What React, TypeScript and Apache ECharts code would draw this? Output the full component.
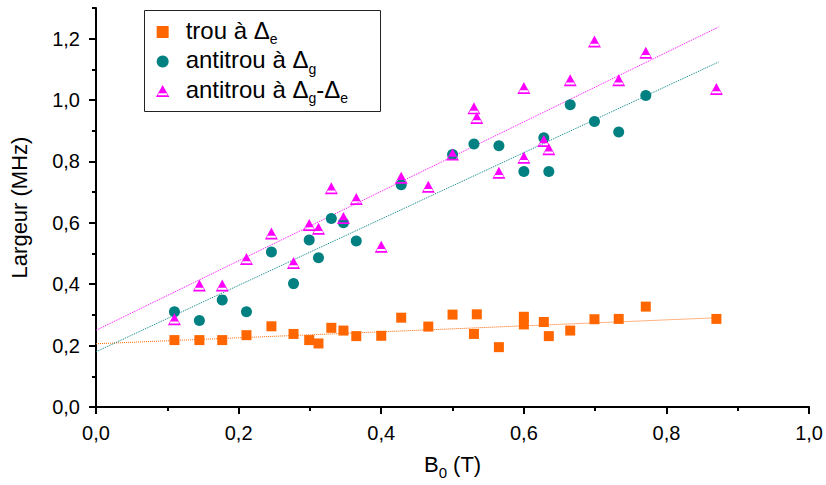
import React, { useEffect, useRef } from "react";
import * as echarts from "echarts";

// ---- data ----
const trouX = [0.11, 0.145, 0.177, 0.211, 0.246, 0.277, 0.299, 0.312, 0.33, 0.347, 0.365, 0.4, 0.428, 0.466, 0.5, 0.53, 0.534, 0.565, 0.6, 0.6, 0.628, 0.635, 0.665, 0.699, 0.733, 0.771, 0.87];
const trouY = [0.218, 0.218, 0.218, 0.234, 0.263, 0.238, 0.218, 0.207, 0.258, 0.249, 0.231, 0.232, 0.291, 0.262, 0.301, 0.238, 0.302, 0.195, 0.294, 0.269, 0.277, 0.231, 0.249, 0.286, 0.287, 0.327, 0.287];

const antiX = [0.11, 0.145, 0.177, 0.211, 0.246, 0.277, 0.299, 0.312, 0.33, 0.347, 0.365, 0.428, 0.5, 0.53, 0.565, 0.6, 0.628, 0.635, 0.665, 0.699, 0.733, 0.771];
const antiY = [0.31, 0.282, 0.349, 0.31, 0.505, 0.402, 0.544, 0.486, 0.614, 0.6, 0.541, 0.724, 0.823, 0.857, 0.851, 0.767, 0.877, 0.767, 0.985, 0.93, 0.896, 1.015];

const antiDiffX = [0.11, 0.145, 0.177, 0.211, 0.246, 0.277, 0.299, 0.312, 0.33, 0.347, 0.365, 0.4, 0.428, 0.466, 0.5, 0.53, 0.534, 0.565, 0.6, 0.6, 0.628, 0.635, 0.665, 0.699, 0.733, 0.771, 0.87];
const antiDiffY = [0.286, 0.396, 0.396, 0.482, 0.565, 0.469, 0.593, 0.581, 0.713, 0.616, 0.678, 0.522, 0.747, 0.718, 0.823, 0.973, 0.942, 0.763, 1.039, 0.812, 0.867, 0.84, 1.065, 1.191, 1.065, 1.154, 1.036];

// linear fits (endpoints)
const fitTrou = [[0, 0.206], [0.873, 0.291]];
const fitAnti = [[0, 0.18], [0.873, 1.124]];
const fitAntiDiff = [[0, 0.25], [0.873, 1.238]];

const seriesNames = ["trou à Δe", "antitrou à Δg", "antitrou à Δg-Δe"];
const legendRich = [
  "{t|trou à Δ}{s|e}",
  "{t|antitrou à Δ}{s|g}",
  "{t|antitrou à Δ}{s|g}{t|-Δ}{s|e}",
];

const yMajorTicks = [0, 0.2, 0.4, 0.6, 0.8, 1.0, 1.2];

const FONT = "'Liberation Sans', Arial, sans-serif";
const ORANGE = "#ff6600";
const TEAL = "#008080";
const MAGENTA = "#ff00ff";
const SQUARE = "path://M0,0 L10,0 L10,10 L0,10 Z";
const TRIANGLE =
  "path://M10,0 L20,18 L0,18 Z M4.2,12.4 L2.6,15.4 L17.4,15.4 L15.8,12.4 Z";

const zip = (xs: number[], ys: number[]) => xs.map((x, i) => [x, ys[i]]);
const fmt = (v: number) => v.toFixed(1).replace(".", ",");

export default function App() {
  const ref = useRef<HTMLDivElement>(null);
  useEffect(() => {
    if (!ref.current) return;
    const chart = echarts.init(ref.current, null, { renderer: "svg" });
    const axisLine = { show: true, lineStyle: { color: "#000", width: 2 } };
    chart.setOption({
      animation: false,
      backgroundColor: "#fff",
      textStyle: { fontFamily: FONT },
      grid: { left: 96, right: 16, top: 8, bottom: 74 },
      legend: {
        orient: "vertical",
        left: 156,
        top: 18,
        padding: 0,
        itemGap: 1.5,
        itemWidth: 36,
        itemHeight: 12,
        data: [
          { name: seriesNames[0], icon: SQUARE },
          { name: seriesNames[1], icon: "circle" },
          { name: seriesNames[2], icon: TRIANGLE },
        ],
        formatter: (name: string) => legendRich[seriesNames.indexOf(name)],
        textStyle: {
          color: "#000",
          fontFamily: FONT,
          rich: {
            t: { fontSize: 24, lineHeight: 28, verticalAlign: "top", fontFamily: FONT, color: "#000" },
            s: { fontSize: 14, lineHeight: 16, verticalAlign: "bottom", fontFamily: FONT, color: "#000" },
          },
        },
      },
      graphic: [
        {
          type: "rect",
          shape: { x: 144.5, y: 10.5, width: 236, height: 101 },
          style: { fill: "none", stroke: "#222", lineWidth: 1 },
          z: 100,
        },
      ],
      xAxis: {
        type: "value",
        min: 0,
        max: 1,
        interval: 0.2,
        name: "{b|B}{s|0}{b| (T)}",
        nameLocation: "middle",
        nameGap: 41,
        nameTextStyle: {
          rich: {
            b: { fontSize: 22, lineHeight: 32, fontFamily: FONT, color: "#000" },
            s: { fontSize: 15, lineHeight: 15, verticalAlign: "bottom", fontFamily: FONT, color: "#000" },
          },
        },
        axisLine,
        axisTick: { show: true, inside: false, length: 7, lineStyle: { color: "#000", width: 2 } },
        minorTick: { show: true, splitNumber: 2, length: 4, lineStyle: { color: "#000", width: 2 } },
        splitLine: { show: false },
        axisLabel: { fontSize: 20, color: "#000", margin: 16, fontFamily: FONT, formatter: fmt },
      },
      yAxis: [
        {
          type: "value",
          min: 0,
          max: 1.3,
          interval: 0.1,
          name: "Largeur (MHz)",
          nameLocation: "middle",
          nameGap: 66,
          nameTextStyle: { fontSize: 22, color: "#000", fontFamily: FONT },
          axisLine,
          axisTick: { show: true, inside: false, length: 4, lineStyle: { color: "#000", width: 2 } },
          splitLine: { show: false },
          axisLabel: {
            fontSize: 20,
            color: "#000",
            margin: 16,
            fontFamily: FONT,
            formatter: (v: number) => (Math.round(v * 10) % 2 === 0 ? fmt(v) : ""),
          },
        },
        {
          type: "value",
          min: 0,
          max: 1.3,
          interval: 0.2,
          position: "left",
          axisLine: { show: false },
          axisTick: {
            show: true,
            inside: false,
            length: 7,
            customValues: yMajorTicks,
            lineStyle: { color: "#000", width: 2 },
          },
          axisLabel: { show: false },
          splitLine: { show: false },
        },
      ],
      series: [
        {
          type: "line",
          data: fitTrou,
          symbol: "none",
          lineStyle: { color: ORANGE, width: 1, type: "dotted" },
          silent: true,
          z: 1,
        },
        {
          type: "line",
          data: fitAnti,
          symbol: "none",
          lineStyle: { color: TEAL, width: 1, type: "dotted" },
          silent: true,
          z: 1,
        },
        {
          type: "line",
          data: fitAntiDiff,
          symbol: "none",
          lineStyle: { color: MAGENTA, width: 1, type: "dotted" },
          silent: true,
          z: 1,
        },
        {
          name: seriesNames[0],
          type: "scatter",
          data: zip(trouX, trouY),
          symbol: SQUARE,
          symbolSize: 10,
          itemStyle: { color: ORANGE, opacity: 1 },
          z: 2,
        },
        {
          name: seriesNames[1],
          type: "scatter",
          data: zip(antiX, antiY),
          symbol: "circle",
          symbolSize: 11,
          itemStyle: { color: TEAL, opacity: 1 },
          z: 3,
        },
        {
          name: seriesNames[2],
          type: "scatter",
          data: zip(antiDiffX, antiDiffY),
          symbol: TRIANGLE,
          symbolSize: [13, 12],
          itemStyle: { color: MAGENTA, opacity: 1 },
          z: 4,
        },
      ],
    });
    return () => chart.dispose();
  }, []);
  return (
    <div
      ref={ref}
      style={{ position: "fixed", left: 0, top: 0, width: 826, height: 485, background: "#fff" }}
    />
  );
}
